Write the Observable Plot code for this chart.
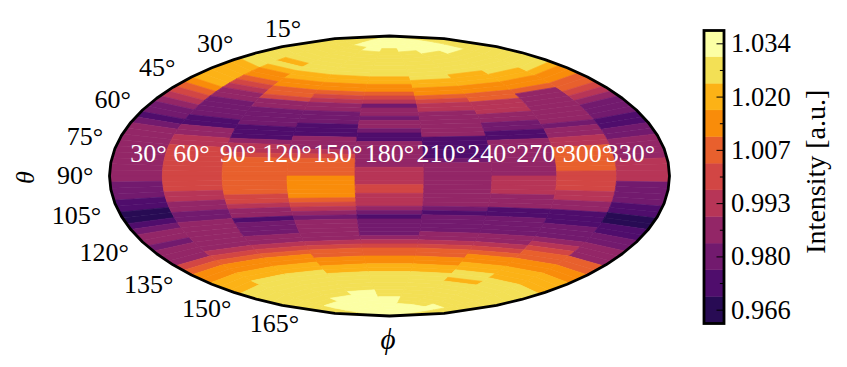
<!DOCTYPE html>
<html>
<head>
<meta charset="utf-8">
<script src="https://cdn.jsdelivr.net/npm/d3@7"></script>
<script src="https://cdn.jsdelivr.net/npm/@observablehq/plot@0.6"></script>
<style>
html,body{margin:0;padding:0;background:#fff}
#chart{position:relative;width:847px;height:367px;overflow:hidden}
#chart svg{position:absolute;left:0;top:0}
</style>
</head>
<body>
<div id="chart"></div>
<script>
// Discrete intensity bands, bottom to top of the colour bar
const bandValues = [0.966,0.973,0.980,0.986,0.993,1.000,1.007,1.014,1.020,1.027,1.034];
const bandColors = ["#280b54","#4f0d6c","#721a6e","#932667","#b73557","#d24644","#e8602d","#f98c0a","#fcb216","#f3e055","#fcffa4"];
const phiEdges = [0,40,80,120,160,200,240,280,320,360];
const thetaStep = 2.5;
const rowCount = 72;
const phiTicks = [30,60,90,120,150,180,210,240,270,300,330];
const thetaTicks = [15,30,45,60,75,90,105,120,135,150,165];
// Each column: runs of [band index, last theta row of the run]
const col20 = [[9,12],[8,17],[7,18],[6,19],[5,20],[4,21],[3,22],[2,24],[1,25],[2,26],[3,36],[2,39],[1,41],[0,43],[1,44],[2,45],[3,47],[2,48],[3,51],[5,52],[6,53],[7,55],[8,58],[9,71]];
const col60 = [[9,9],[8,10],[9,11],[8,12],[7,14],[6,15],[5,16],[4,17],[3,19],[2,23],[1,25],[3,27],[4,29],[5,38],[4,40],[3,42],[2,44],[3,50],[4,51],[5,52],[6,53],[7,55],[8,57],[9,65],[10,71]];
const col100 = [[10,3],[9,11],[8,13],[7,15],[6,17],[5,18],[3,20],[2,24],[1,27],[3,28],[4,30],[5,31],[6,39],[5,41],[4,42],[3,44],[1,45],[2,48],[3,50],[4,51],[5,52],[6,53],[7,55],[8,57],[9,64],[10,71]];
const col140 = [[10,4],[9,11],[8,13],[7,15],[6,16],[5,17],[4,18],[3,20],[2,23],[1,26],[3,29],[4,30],[5,31],[6,35],[7,40],[6,41],[5,42],[4,43],[3,44],[2,45],[3,50],[4,51],[5,52],[6,54],[7,56],[8,58],[9,63],[10,71]];
const col180 = [[10,3],[9,11],[8,13],[7,15],[6,16],[5,17],[4,18],[2,19],[3,21],[2,22],[3,24],[2,25],[1,27],[3,33],[4,37],[5,39],[4,42],[3,43],[2,44],[1,45],[2,49],[3,50],[4,51],[5,52],[6,54],[7,56],[8,58],[9,65],[10,71]];
const col220 = [[10,4],[9,12],[8,14],[7,16],[6,17],[5,18],[4,20],[3,26],[1,31],[2,32],[3,42],[2,43],[1,44],[2,48],[3,50],[4,51],[5,52],[6,54],[7,56],[8,58],[9,67],[10,71]];
const col260 = [[10,5],[9,11],[8,14],[7,16],[6,18],[4,21],[3,23],[2,25],[1,27],[3,35],[4,39],[3,42],[1,44],[2,48],[3,50],[4,51],[5,52],[6,53],[7,55],[8,57],[9,59],[8,60],[9,67],[10,71]];
const col300 = [[10,6],[9,12],[8,14],[7,16],[6,17],[3,24],[2,25],[3,27],[4,29],[6,34],[5,38],[4,40],[3,42],[1,45],[2,48],[3,49],[4,50],[5,51],[6,53],[7,55],[8,58],[9,66],[10,71]];
const col340 = [[9,13],[8,14],[7,16],[6,18],[5,19],[4,20],[3,21],[2,24],[1,26],[2,28],[3,32],[4,36],[2,40],[1,42],[0,44],[1,46],[2,48],[3,51],[6,53],[7,55],[8,58],[9,71]];
const columns = [col20,col60,col100,col140,col180,col220,col260,col300,col340];

// Hammer projection
function hammerRaw(l,p){
  const c=Math.cos(p), d=Math.sqrt(1+c*Math.cos(l/2));
  return [2*Math.SQRT2*c*Math.sin(l/2)/d, Math.SQRT2*Math.sin(p)/d];
}
const scale = 280/(2*Math.SQRT2);
const makeProj = () => d3.geoProjection(hammerRaw).scale(scale).translate([389,175.5]);
const clampLon = v => Math.max(-179.99,Math.min(179.99,v-180));
const clampLat = v => Math.max(-89.99,Math.min(89.99,90-v));

const cells = [];
columns.forEach((runs,c)=>{
  let row = 0;
  for (const [band,last] of runs) {
    for (; row<=last && row<rowCount; row++) {
      const w=clampLon(phiEdges[c]), e=clampLon(phiEdges[c+1]);
      const n=clampLat(row*thetaStep), s=clampLat((row+1)*thetaStep);
      cells.push({type:"Feature",properties:{v:bandValues[band]},
        geometry:{type:"Polygon",coordinates:[[[w,s],[w,n],[e,n],[e,s],[w,s]]]}});
    }
  }
});

const serif = "'Liberation Serif', serif";
const colorScale = {type:"ordinal",domain:bandValues,range:bandColors};
const base = {width:847,height:367,margin:0,style:{background:"transparent",fontFamily:serif}};

// Mesh: straight edged quads, as the source's pcolormesh draws them
const mesh = Plot.plot({...base,
  projection: makeProj().precision(0),
  color: colorScale,
  marks:[
    Plot.geo(cells,{fill:d=>d.properties.v,stroke:d=>d.properties.v,strokeWidth:0.7})
  ]});

const thetaLabelMarks = thetaTicks.map(t=>{
  const sinLat = Math.sin((90-t)*Math.PI/180);
  return Plot.text([t],{x:-179.99,y:90-t,text:d=>d+"°",textAnchor:"end",
    dx:t>90?-18:-16,dy:-13*sinLat,fontSize:26,fill:"black"});
});

const overlay = Plot.plot({...base,
  projection: makeProj(),
  marks:[
    Plot.sphere({stroke:"black",strokeWidth:2.8}),
    ...thetaLabelMarks,
    Plot.text(phiTicks,{x:d=>d-180,y:0,text:d=>d+"°",dy:-22,fontSize:26,fill:"white"}),
    Plot.text(["θ"],{frameAnchor:"left",dx:25,rotate:-90,fontSize:26,fontStyle:"italic",fill:"black"}),
    Plot.text(["ϕ"],{frameAnchor:"bottom-left",dx:380,dy:-19,fontSize:29,fontStyle:"italic",fill:"black"})
  ]});

const bandIndex = bandValues.map((d,i)=>i);
const cbar = Plot.plot({width:847,height:367,marginLeft:703.5,marginRight:123.5,marginTop:30,marginBottom:44,
  style:{background:"transparent",fontFamily:serif},
  x:{domain:[0,1],axis:null},
  y:{domain:[0,11],axis:null},
  color: colorScale,
  marks:[
    Plot.rect(bandIndex,{x1:0,x2:1,y1:d=>d,y2:d=>d+1,fill:d=>bandValues[d],stroke:d=>bandValues[d],strokeWidth:0.4}),
    Plot.ruleY(bandIndex,{y:d=>d+0.5,x1:d=>d%2?0.82:0.65,x2:1,stroke:"black",strokeWidth:1}),
    Plot.text(bandIndex.filter(d=>d%2===0),{x:1,y:d=>d+0.5,dx:7,textAnchor:"start",text:d=>d3.format(".3f")(bandValues[d]),fontSize:26.5,fill:"black"}),
    Plot.text(["Intensity [a.u.]"],{x:1,y:5.7,dx:92,rotate:-90,fontSize:28,fill:"black"}),
    Plot.frame({stroke:"black",strokeWidth:2.8})
  ]});

document.getElementById("chart").append(mesh,overlay,cbar);
</script>
</body>
</html>
